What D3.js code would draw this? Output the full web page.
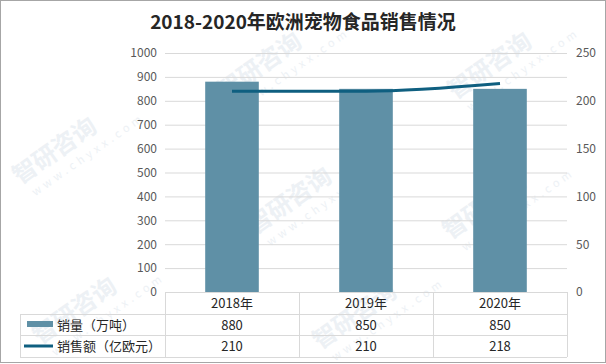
<!DOCTYPE html>
<html>
<head>
<meta charset="utf-8">
<script src="https://cdn.jsdelivr.net/npm/d3@7"></script>
<style>
  body { margin: 0; background: #fff; }
  text { font-family: "Noto Sans CJK SC", "Noto Sans", sans-serif; }
</style>
</head>
<body>
<script>
// chart data
const years = ["2018年", "2019年", "2020年"];
const volume = [880, 850, 850];   // 销量（万吨）
const sales = [210, 210, 218];    // 销售额（亿欧元）
const leftTicks = [0, 100, 200, 300, 400, 500, 600, 700, 800, 900, 1000];
const rightTicks = [0, 50, 100, 150, 200, 250];
const seriesNames = ["销量（万吨）", "销售额（亿欧元）"];

const W = 606, H = 364;
const barColor = "#5f90a6", lineColor = "#0f5f80";

var svg = d3.select("body").append("svg").attr("width", W).attr("height", H);

svg.append("rect").attr("x", 0.5).attr("y", 0.5).attr("width", W - 1).attr("height", H - 2)
  .attr("fill", "#fff").attr("stroke", "#a6a6a6");

// faint watermark, drawn first so it sits behind the chart
const marks = [[20, 185], [225, 100], [455, 100], [40, 345], [255, 235], [450, 240], [320, 350]];
marks.forEach(function (m) {
  var g = svg.append("g").attr("transform", "translate(" + m[0] + "," + m[1] + ") rotate(-35)");
  g.append("text").attr("x", 0).attr("y", 0).attr("font-size", 24).attr("font-weight", "bold")
    .attr("fill", "#edf1f5").text("智研咨询");
  g.append("text").attr("x", 6).attr("y", 18).attr("font-size", 11).attr("letter-spacing", 4)
    .attr("fill", "#edf1f5").text("www.chyxx.com");
});

svg.append("text").attr("x", 303).attr("y", 29).attr("text-anchor", "middle")
  .attr("font-size", 19).attr("font-weight", "bold").attr("fill", "#262626")
  .text("2018-2020年欧洲宠物食品销售情况");

const pLeft = 165, pRight = 567, pTop = 53, pBottom = 292;

var x = d3.scaleBand().domain(years).range([pLeft, pRight]).paddingInner(0.6).paddingOuter(0.3);
var xc = d3.scalePoint().domain(years).range([pLeft, pRight]).padding(0.5);
var y = d3.scaleLinear().domain([0, 1000]).range([pBottom, pTop]);
var y2 = d3.scaleLinear().domain([0, 250]).range([pBottom, pTop]);

// gridlines
svg.append("g").selectAll("line").data(leftTicks.slice(1)).join("line")
  .attr("x1", pLeft).attr("x2", pRight)
  .attr("y1", d => y(d) + 0.5).attr("y2", d => y(d) + 0.5)
  .attr("stroke", "#d9d9d9");

// left axis
var ya = svg.append("g").attr("transform", "translate(" + (pLeft - 8) + ",0)")
  .call(d3.axisLeft(y).tickValues(leftTicks).tickFormat(d3.format("d")).tickSize(0).tickPadding(0));
ya.select(".domain").remove();
ya.selectAll("text").attr("font-size", 12).attr("fill", "#595959")
  .attr("font-family", "'Liberation Sans', sans-serif");

// right axis
var ya2 = svg.append("g").attr("transform", "translate(" + (pRight + 9) + ",0)")
  .call(d3.axisRight(y2).tickValues(rightTicks).tickSize(0).tickPadding(0));
ya2.select(".domain").remove();
ya2.selectAll("text").attr("font-size", 12).attr("fill", "#595959")
  .attr("font-family", "'Liberation Sans', sans-serif");

// bars
svg.append("g").selectAll("rect").data(volume).join("rect")
  .attr("x", (d, i) => x(years[i]))
  .attr("y", d => y(d))
  .attr("width", x.bandwidth())
  .attr("height", d => pBottom - y(d))
  .attr("fill", barColor);

// line
svg.append("path").datum(sales)
  .attr("fill", "none").attr("stroke", lineColor).attr("stroke-width", 3)
  .attr("d", d3.line().x((d, i) => xc(years[i])).y(d => y2(d)).curve(d3.curveMonotoneX));

// data table
const rowY = [292, 314, 335, 357];
const tableLeft = 20;
var t = svg.append("g").attr("stroke", "#d9d9d9").attr("fill", "none");
t.append("line").attr("x1", pLeft).attr("x2", pRight).attr("y1", rowY[0] + 0.5).attr("y2", rowY[0] + 0.5);
for (var r = 1; r < 4; r++) {
  t.append("line").attr("x1", tableLeft).attr("x2", pRight).attr("y1", rowY[r] + 0.5).attr("y2", rowY[r] + 0.5);
}
var cols = [pLeft].concat(years.map(d => xc(d) + xc.step() / 2));
cols.forEach(function (c) {
  t.append("line").attr("x1", c + 0.5).attr("x2", c + 0.5).attr("y1", rowY[0]).attr("y2", rowY[3]);
});
t.append("line").attr("x1", tableLeft + 0.5).attr("x2", tableLeft + 0.5).attr("y1", rowY[1]).attr("y2", rowY[3]);

var tf = "'Liberation Sans', sans-serif";
svg.append("g").selectAll("text").data(years).join("text")
  .attr("x", d => xc(d)).attr("y", (rowY[0] + rowY[1]) / 2 + 5).attr("text-anchor", "middle")
  .attr("font-size", 13).attr("fill", "#262626").text(d => d);
[volume, sales].forEach(function (vals, k) {
  svg.append("g").selectAll("text").data(vals).join("text")
    .attr("x", (d, i) => xc(years[i])).attr("y", (rowY[k + 1] + rowY[k + 2]) / 2 + 5)
    .attr("text-anchor", "middle").attr("font-size", 13).attr("font-family", tf)
    .attr("fill", "#262626").text(d => d);
});

// legend keys in table
svg.append("rect").attr("x", 27).attr("y", 321).attr("width", 26).attr("height", 6).attr("fill", barColor);
svg.append("line").attr("x1", 24).attr("x2", 53).attr("y1", 346).attr("y2", 346)
  .attr("stroke", lineColor).attr("stroke-width", 3);
seriesNames.forEach(function (n, k) {
  svg.append("text").attr("x", 57).attr("y", (rowY[k + 1] + rowY[k + 2]) / 2 + 5)
    .attr("font-size", 13).attr("fill", "#262626").text(n);
});
</script>
</body>
</html>
